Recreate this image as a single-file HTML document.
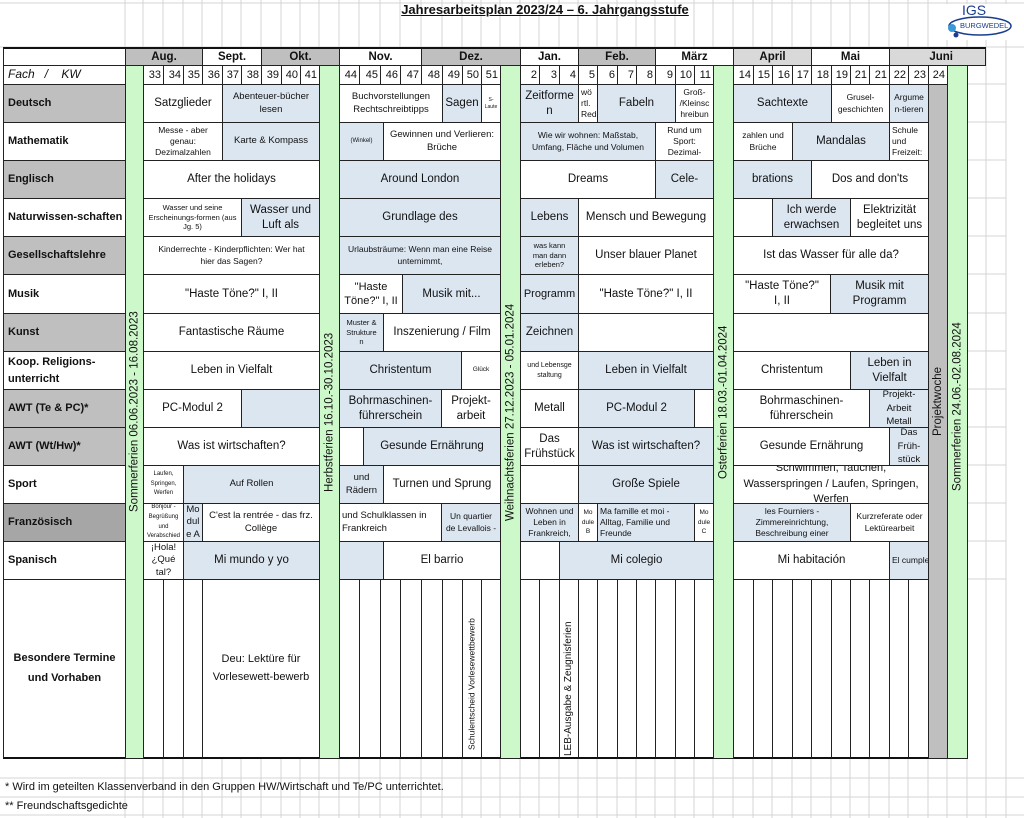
<!DOCTYPE html>
<html><head><meta charset="utf-8">
<style>
*{box-sizing:border-box;margin:0;padding:0}
body{width:1024px;height:818px;position:relative;background:#fff;font-family:"Liberation Sans",sans-serif;overflow:hidden;color:#111}
.c{position:absolute;border:1px solid #222;display:flex;align-items:center;justify-content:center;text-align:center;font-size:11.5px;line-height:1.3;overflow:hidden;background:#fff}
.b{background:#dce6f1}
.g{background:#bfbfbf}
.f{justify-content:flex-start;text-align:left;padding-left:4px;font-weight:bold;font-size:11px;white-space:nowrap}
.k{font-size:11px;justify-content:flex-end;padding-right:2px}
.m{font-weight:bold;font-size:11.5px}
.v{position:absolute;writing-mode:vertical-rl;transform:rotate(180deg);display:flex;align-items:center;justify-content:center;font-size:11.5px;white-space:nowrap}
.gr{background:#cdf9ca;border:1px solid #222}
.s9{font-size:8.5px}.s10{font-size:9.5px}.s8{font-size:7.5px}.s7{font-size:6px}
.l{justify-content:flex-start;text-align:left;padding-left:2px}
</style></head><body>
<svg id="grid" width="1024" height="818" style="position:absolute;left:0;top:0"></svg>

<div style="position:absolute;left:380px;top:2px;width:330px;text-align:center;font-weight:bold;font-size:13px;text-decoration:underline">Jahresarbeitsplan 2023/24 – 6. Jahrgangsstufe</div>
<div style="position:absolute;left:936px;top:4px;width:80px;height:36px;background:#fff">
<svg width="80" height="36"><ellipse cx="44" cy="22" rx="31" ry="9" fill="none" stroke="#1a3d8f" stroke-width="1.5"/><circle cx="16" cy="24" r="4" fill="#3a9ad9"/><circle cx="20" cy="31" r="2.5" fill="#1a3d8f"/></svg>
<div style="position:absolute;left:26px;top:-2px;color:#1a3d8f;font-size:14px">IGS</div>
<div style="position:absolute;left:24px;top:17px;color:#1a3d8f;font-size:7.5px">BURGWEDEL</div>
</div>

<!-- months -->
<div class="c" style="left:3px;top:47px;width:123px;height:19px;border-top:2px solid #111"></div>
<div class="c m g" style="left:125px;top:47px;width:78px;height:19px;border-top:2px solid #111">Aug.</div>
<div class="c m" style="left:202px;top:47px;width:60px;height:19px;border-top:2px solid #111">Sept.</div>
<div class="c m g" style="left:261px;top:47px;width:79px;height:19px;border-top:2px solid #111">Okt.</div>
<div class="c m" style="left:339px;top:47px;width:83px;height:19px;border-top:2px solid #111">Nov.</div>
<div class="c m g" style="left:421px;top:47px;width:100px;height:19px;border-top:2px solid #111">Dez.</div>
<div class="c m" style="left:520px;top:47px;width:59px;height:19px;border-top:2px solid #111">Jan.</div>
<div class="c m g" style="left:578px;top:47px;width:78px;height:19px;border-top:2px solid #111">Feb.</div>
<div class="c m" style="left:655px;top:47px;width:79px;height:19px;border-top:2px solid #111">März</div>
<div class="c m" style="left:733px;top:47px;width:79px;height:19px;border-top:2px solid #111;background:#d9d9d9">April</div>
<div class="c m" style="left:811px;top:47px;width:79px;height:19px;border-top:2px solid #111">Mai</div>
<div class="c m" style="left:889px;top:47px;width:97px;height:19px;border-top:2px solid #111;background:#d9d9d9;justify-content:flex-end;padding-right:32px">Juni</div>

<!-- KW row -->
<div class="c" style="left:3px;top:65px;width:123px;height:20px;justify-content:flex-start;padding-left:4px;font-style:italic;font-size:12px;white-space:pre">Fach   /    KW</div>
<div id="kw"></div>

<!-- Fach column -->
<div class="c f g" style="left:3px;top:84px;width:123px;height:39px">Deutsch</div>
<div class="c f" style="left:3px;top:122px;width:123px;height:39px">Mathematik</div>
<div class="c f g" style="left:3px;top:160px;width:123px;height:39px">Englisch</div>
<div class="c f" style="left:3px;top:198px;width:123px;height:39px">Naturwissen-schaften</div>
<div class="c f g" style="left:3px;top:236px;width:123px;height:39px">Gesellschaftslehre</div>
<div class="c f" style="left:3px;top:274px;width:123px;height:40px">Musik</div>
<div class="c f g" style="left:3px;top:313px;width:123px;height:39px">Kunst</div>
<div class="c f" style="left:3px;top:351px;width:123px;height:39px;line-height:1.5">Koop. Religions-<br>unterricht</div>
<div class="c f g" style="left:3px;top:389px;width:123px;height:39px">AWT (Te &amp; PC)*</div>
<div class="c f g" style="left:3px;top:427px;width:123px;height:39px">AWT (Wt/Hw)*</div>
<div class="c f" style="left:3px;top:465px;width:123px;height:39px">Sport</div>
<div class="c f" style="left:3px;top:503px;width:123px;height:39px;background:#a6a6a6">Französisch</div>
<div class="c f" style="left:3px;top:541px;width:123px;height:39px">Spanisch</div>
<div class="c" style="left:3px;top:579px;width:123px;height:180px;font-weight:bold;font-size:11px;line-height:1.75;border-bottom:2px solid #111">Besondere Termine<br>und Vorhaben</div>

<div id="bes"></div>
<div class="c" style="left:202px;top:579px;width:118px;height:180px;border-bottom:2px solid #111;line-height:1.6;font-size:11px">Deu: Lektüre für<br>Vorlesewett-bewerb</div>
<div class="v" style="left:462px;top:590px;width:19px;height:160px;font-size:8.5px;justify-content:flex-start">Schulentscheid Vorlesewettbewerb</div>
<div class="v" style="left:559px;top:590px;width:19px;height:166px;font-size:10px;justify-content:flex-start">LEB-Ausgabe &amp; Zeugnisferien</div>

<!-- Deutsch -->
<div class="c" style="left:143px;top:84px;width:80px;height:39px">Satzglieder</div>
<div class="c b s10" style="left:222px;top:84px;width:98px;height:39px">Abenteuer-bücher<br>lesen</div>
<div class="c s10" style="left:339px;top:84px;width:104px;height:39px">Buchvorstellungen<br>Rechtschreibtipps</div>
<div class="c b" style="left:442px;top:84px;width:40px;height:39px">Sagen</div>
<div class="c" style="left:481px;top:84px;width:20px;height:39px;font-size:5px">S-<br>Laute</div>
<div class="c b" style="left:520px;top:84px;width:59px;height:39px">Zeitforme<br>n</div>
<div class="c l s9" style="left:578px;top:84px;width:20px;height:39px">wö<br>rtl.<br>Red</div>
<div class="c b" style="left:597px;top:84px;width:79px;height:39px">Fabeln</div>
<div class="c s9" style="left:675px;top:84px;width:39px;height:39px">Groß-<br>/Kleinsc<br>hreibun</div>
<div class="c b" style="left:733px;top:84px;width:99px;height:39px">Sachtexte</div>
<div class="c s9" style="left:831px;top:84px;width:59px;height:39px">Grusel-<br>geschichten</div>
<div class="c b s9" style="left:889px;top:84px;width:40px;height:39px">Argume<br>n-tieren</div>

<!-- Mathe -->
<div class="c s9" style="left:143px;top:122px;width:80px;height:39px">Messe - aber<br>genau:<br>Dezimalzahlen</div>
<div class="c b s10" style="left:222px;top:122px;width:98px;height:39px">Karte &amp; Kompass</div>
<div class="c b" style="left:339px;top:122px;width:45px;height:39px;font-size:6px">(Winkel)</div>
<div class="c s10" style="left:383px;top:122px;width:118px;height:39px">Gewinnen und Verlieren:<br>Brüche</div>
<div class="c b s9" style="left:520px;top:122px;width:136px;height:39px">Wie wir wohnen: Maßstab,<br>Umfang, Fläche und Volumen</div>
<div class="c s9" style="left:655px;top:122px;width:59px;height:39px">Rund um<br>Sport:<br>Dezimal-</div>
<div class="c s9" style="left:733px;top:122px;width:60px;height:39px">zahlen und<br>Brüche</div>
<div class="c b" style="left:792px;top:122px;width:98px;height:39px">Mandalas</div>
<div class="c s9 l" style="left:889px;top:122px;width:40px;height:39px">Schule<br>und<br>Freizeit:</div>

<!-- Englisch -->
<div class="c" style="left:143px;top:160px;width:177px;height:39px">After the holidays</div>
<div class="c b" style="left:339px;top:160px;width:162px;height:39px">Around London</div>
<div class="c" style="left:520px;top:160px;width:136px;height:39px">Dreams</div>
<div class="c b" style="left:655px;top:160px;width:59px;height:39px">Cele-</div>
<div class="c b" style="left:733px;top:160px;width:79px;height:39px">brations</div>
<div class="c" style="left:811px;top:160px;width:118px;height:39px">Dos and don'ts</div>

<!-- Nawi -->
<div class="c" style="left:143px;top:198px;width:99px;height:39px;font-size:7.5px">Wasser und seine<br>Erscheinungs-formen (aus<br>Jg. 5)</div>
<div class="c b" style="left:241px;top:198px;width:79px;height:39px">Wasser und<br>Luft als</div>
<div class="c b" style="left:339px;top:198px;width:162px;height:39px">Grundlage des</div>
<div class="c b" style="left:520px;top:198px;width:59px;height:39px">Lebens</div>
<div class="c" style="left:578px;top:198px;width:136px;height:39px">Mensch und Bewegung</div>
<div class="c" style="left:733px;top:198px;width:40px;height:39px"></div>
<div class="c b" style="left:772px;top:198px;width:79px;height:39px">Ich werde<br>erwachsen</div>
<div class="c" style="left:850px;top:198px;width:79px;height:39px">Elektrizität<br>begleitet uns</div>

<!-- GL -->
<div class="c s9" style="left:143px;top:236px;width:177px;height:39px">Kinderrechte - Kinderpflichten: Wer hat<br>hier das Sagen?</div>
<div class="c b s9" style="left:339px;top:236px;width:162px;height:39px">Urlaubsträume: Wenn man eine Reise<br>unternimmt,</div>
<div class="c b s8" style="left:520px;top:236px;width:59px;height:39px">was kann<br>man dann<br>erleben?</div>
<div class="c" style="left:578px;top:236px;width:136px;height:39px">Unser blauer Planet</div>
<div class="c" style="left:733px;top:236px;width:196px;height:39px">Ist das Wasser für alle da?</div>

<!-- Musik -->
<div class="c" style="left:143px;top:274px;width:177px;height:40px">"Haste Töne?" I, II</div>
<div class="c" style="left:339px;top:274px;width:64px;height:40px;font-size:11px">"Haste<br>Töne?" I, II</div>
<div class="c b" style="left:402px;top:274px;width:99px;height:40px">Musik mit...</div>
<div class="c b" style="left:520px;top:274px;width:59px;height:40px;font-size:11px">Programm</div>
<div class="c" style="left:578px;top:274px;width:136px;height:40px">"Haste Töne?" I, II</div>
<div class="c" style="left:733px;top:274px;width:98px;height:40px">"Haste Töne?"<br>I, II</div>
<div class="c b" style="left:830px;top:274px;width:99px;height:40px">Musik mit<br>Programm</div>

<!-- Kunst -->
<div class="c" style="left:143px;top:313px;width:177px;height:39px">Fantastische Räume</div>
<div class="c b s8" style="left:339px;top:313px;width:45px;height:39px">Muster &amp;<br>Strukture<br>n</div>
<div class="c" style="left:383px;top:313px;width:118px;height:39px">Inszenierung / Film</div>
<div class="c b" style="left:520px;top:313px;width:59px;height:39px">Zeichnen</div>
<div class="c" style="left:578px;top:313px;width:136px;height:39px"></div>
<div class="c" style="left:733px;top:313px;width:196px;height:39px"></div>

<!-- Koop -->
<div class="c" style="left:143px;top:351px;width:177px;height:39px">Leben in Vielfalt</div>
<div class="c b" style="left:339px;top:351px;width:123px;height:39px">Christentum</div>
<div class="c" style="left:461px;top:351px;width:40px;height:39px;font-size:6.5px">Glück</div>
<div class="c" style="left:520px;top:351px;width:59px;height:39px;font-size:7px">und Lebensge<br>staltung</div>
<div class="c b" style="left:578px;top:351px;width:136px;height:39px">Leben in Vielfalt</div>
<div class="c" style="left:733px;top:351px;width:118px;height:39px">Christentum</div>
<div class="c b" style="left:850px;top:351px;width:79px;height:39px">Leben in<br>Vielfalt</div>

<!-- AWT Te -->
<div class="c" style="left:143px;top:389px;width:99px;height:39px">PC-Modul 2</div>
<div class="c b" style="left:241px;top:389px;width:79px;height:39px"></div>
<div class="c b" style="left:339px;top:389px;width:103px;height:39px">Bohrmaschinen-<br>führerschein</div>
<div class="c" style="left:441px;top:389px;width:60px;height:39px">Projekt-<br>arbeit</div>
<div class="c" style="left:520px;top:389px;width:59px;height:39px">Metall</div>
<div class="c b" style="left:578px;top:389px;width:117px;height:39px">PC-Modul 2</div>
<div class="c" style="left:694px;top:389px;width:20px;height:39px"></div>
<div class="c" style="left:733px;top:389px;width:137px;height:39px">Bohrmaschinen-<br>führerschein</div>
<div class="c b s10" style="left:869px;top:389px;width:60px;height:39px;line-height:1.45">Projekt-<br>Arbeit<br>Metall</div>

<!-- AWT Wt -->
<div class="c" style="left:143px;top:427px;width:177px;height:39px">Was ist wirtschaften?</div>
<div class="c" style="left:339px;top:427px;width:25px;height:39px"></div>
<div class="c b" style="left:363px;top:427px;width:138px;height:39px">Gesunde Ernährung</div>
<div class="c" style="left:520px;top:427px;width:59px;height:39px">Das<br>Frühstück</div>
<div class="c b" style="left:578px;top:427px;width:136px;height:39px">Was ist wirtschaften?</div>
<div class="c" style="left:733px;top:427px;width:157px;height:39px">Gesunde Ernährung</div>
<div class="c b s10" style="left:889px;top:427px;width:40px;height:39px;line-height:1.45">Das<br>Früh-<br>stück</div>

<!-- Sport -->
<div class="c s7" style="left:143px;top:465px;width:41px;height:39px;line-height:1.6">Laufen,<br>Springen,<br>Werfen</div>
<div class="c b s10" style="left:183px;top:465px;width:137px;height:39px">Auf Rollen</div>
<div class="c b s10" style="left:339px;top:465px;width:45px;height:39px;line-height:1.3">und<br>Rädern</div>
<div class="c" style="left:383px;top:465px;width:118px;height:39px">Turnen und Sprung</div>
<div class="c" style="left:520px;top:465px;width:59px;height:39px"></div>
<div class="c b" style="left:578px;top:465px;width:136px;height:39px">Große Spiele</div>
<div class="c" style="left:733px;top:465px;width:196px;height:39px;line-height:1.45;font-size:11px">Schwimmen, Tauchen,<br>Wasserspringen / Laufen, Springen,<br>Werfen</div>

<!-- Franz -->
<div class="c s7" style="left:143px;top:503px;width:41px;height:39px;line-height:1.6">Bonjour -<br>Begrüßung<br>und<br>Verabschied</div>
<div class="c b s10" style="left:183px;top:503px;width:20px;height:39px;line-height:1.3">Mo<br>dul<br>e A</div>
<div class="c s10" style="left:202px;top:503px;width:118px;height:39px">C'est la rentrée - das frz.<br>Collège</div>
<div class="c s10 l" style="left:339px;top:503px;width:103px;height:39px">und Schulklassen in<br>Frankreich</div>
<div class="c b s9" style="left:441px;top:503px;width:60px;height:39px">Un quartier<br>de Levallois -</div>
<div class="c b s9" style="left:520px;top:503px;width:59px;height:39px">Wohnen und<br>Leben in<br>Frankreich,</div>
<div class="c" style="left:578px;top:503px;width:20px;height:39px;font-size:6.5px;line-height:1.5">Mo<br>dule<br>B</div>
<div class="c b s9 l" style="left:597px;top:503px;width:98px;height:39px">Ma famille et moi -<br>Alltag, Familie und<br>Freunde</div>
<div class="c" style="left:694px;top:503px;width:20px;height:39px;font-size:6.5px;line-height:1.5">Mo<br>dule<br>C</div>
<div class="c b s9" style="left:733px;top:503px;width:118px;height:39px">les Fourniers -<br>Zimmereinrichtung,<br>Beschreibung einer</div>
<div class="c s9" style="left:850px;top:503px;width:79px;height:39px">Kurzreferate oder<br>Lektürearbeit</div>

<!-- Span -->
<div class="c s10" style="left:143px;top:541px;width:41px;height:39px;line-height:1.3">¡Hola!<br>¿Qué<br>tal?</div>
<div class="c b" style="left:183px;top:541px;width:137px;height:39px">Mi mundo y yo</div>
<div class="c b" style="left:339px;top:541px;width:45px;height:39px"></div>
<div class="c" style="left:383px;top:541px;width:118px;height:39px">El barrio</div>
<div class="c" style="left:520px;top:541px;width:40px;height:39px"></div>
<div class="c b" style="left:559px;top:541px;width:155px;height:39px">Mi colegio</div>
<div class="c" style="left:733px;top:541px;width:157px;height:39px">Mi habitación</div>
<div class="c b s9 l" style="left:889px;top:541px;width:40px;height:39px;white-space:nowrap">El cumple</div>

<!-- vertical bars -->
<div class="v gr" style="left:125px;top:65px;width:19px;height:694px">Sommerferien  06.06.2023 - 16.08.2023</div>
<div class="v gr" style="left:319px;top:65px;width:21px;height:694px">Herbstferien  16.10.-30.10.2023</div>
<div class="v gr" style="left:500px;top:65px;width:21px;height:694px">Weihnachtsferien  27.12.2023 - 05.01.2024</div>
<div class="v gr" style="left:713px;top:65px;width:21px;height:694px;padding-top:20px">Osterferien  18.03.-01.04.2024</div>
<div class="v" style="left:928px;top:84px;width:20px;height:675px;background:#bfbfbf;border:1px solid #222;padding-top:40px">Projektwoche</div>
<div class="v gr" style="left:947px;top:65px;width:21px;height:694px;padding-top:10px">Sommerferien  24.06.-02.08.2024</div>

<div style="position:absolute;left:5px;top:781px;font-size:11px">* Wird im geteilten Klassenverband in den Gruppen HW/Wirtschaft und Te/PC unterrichtet.</div>
<div style="position:absolute;left:5px;top:800px;font-size:11px">** Freundschaftsgedichte</div>

<script>
var b=[125,143,163,183,202,222,241,261,281,300,319,339,359,380,400,421,442,462,481,500,520,539,559,578,597,617,636,655,675,694,713,733,753,772,792,811,831,850,869,889,908,928,947,967];
var kw={1:33,2:34,3:35,4:36,5:37,6:38,7:39,8:40,9:41,11:44,12:45,13:46,14:47,15:48,16:49,17:50,18:51,20:2,21:3,22:4,23:5,24:6,25:7,26:8,27:9,28:10,29:11,31:14,32:15,33:16,34:17,35:18,36:19,37:21,38:21,39:22,40:23,41:24};
var h='';
for(var i in kw){h+='<div class="c k" style="left:'+b[i]+'px;top:65px;width:'+(b[+i+1]-b[i]+1)+'px;height:20px">'+kw[i]+'</div>';}
document.getElementById('kw').innerHTML=h;
var s='';
for(var i=1;i<42;i++){if(i==10||i==19||i==30)continue;s+='<div class="c" style="left:'+b[i]+'px;top:579px;width:'+(b[i+1]-b[i]+1)+'px;height:180px;border-bottom:2px solid #111"></div>';}
document.getElementById('bes').innerHTML=s;
var g='',xs=b.concat([986,1006]);
xs.forEach(function(x){g+='<line x1="'+x+'" y1="0" x2="'+x+'" y2="818" stroke="#d4d4d4"/>';});
[3,47,778,797,815].forEach(function(y){g+='<line x1="0" y1="'+y+'" x2="1024" y2="'+y+'" stroke="#d4d4d4"/>';});
[84,122,160,198,236,274,313,351,389,427,465,503,541,579].forEach(function(y){g+='<line x1="967" y1="'+y+'" x2="1006" y2="'+y+'" stroke="#d4d4d4"/>';});
document.getElementById('grid').innerHTML=g;
</script>
</body></html>
